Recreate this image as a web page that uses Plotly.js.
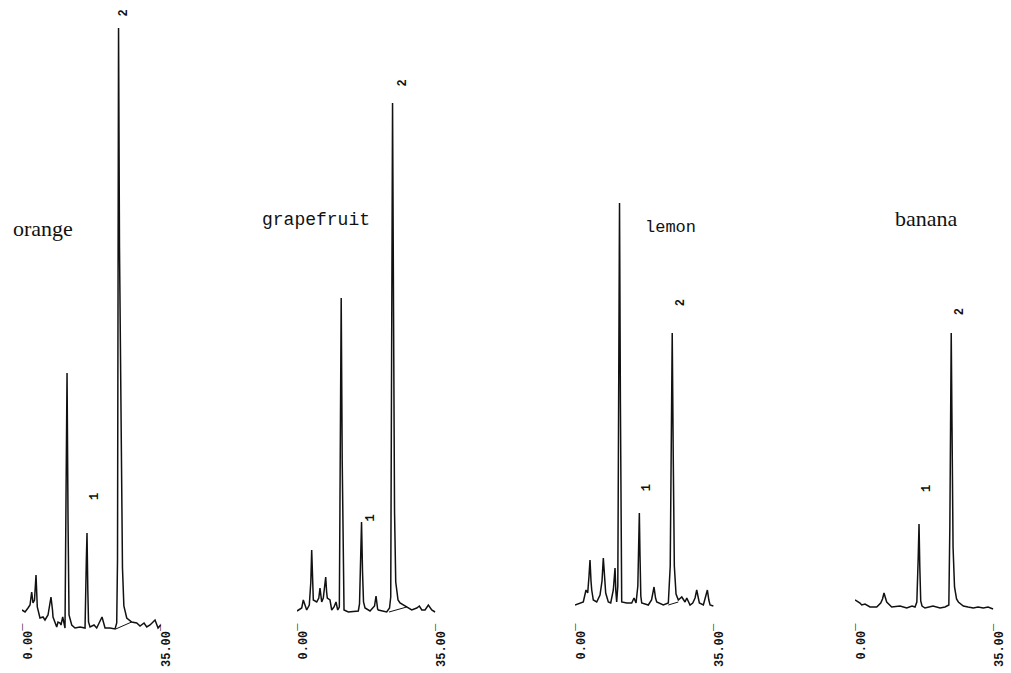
<!DOCTYPE html>
<html>
<head>
<meta charset="utf-8">
<script src="https://cdn.plot.ly/plotly-3.0.1.min.js"></script>
<style>html,body{margin:0;padding:0;background:#fff;}#chart{width:1011px;height:673px;}</style>
</head>
<body>
<div id="chart"></div>
<script>
// ---- data (retention time in minutes, detector signal in arbitrary units) ----
var sampleNames = ['orange', 'grapefruit', 'lemon', 'banana'];
var axisTickLabels = ['0.00\u00af', '35.00\u00af'];
var axisTickTimes = [0, 35];
var peakLabels = ['1', '2'];

var orangeTime = [0, 0.76, 1.51, 2.02, 2.44, 2.77, 3.15, 3.53, 3.85, 4.53, 5.29, 5.79, 6.55, 7.05, 7.30, 7.68, 7.81, 8.74, 9.07, 9.57, 9.82, 10.25, 10.58, 10.83, 11.08, 11.34, 11.59, 11.84, 12.52, 13.35, 14.61, 15.87, 16.20, 16.37, 16.57, 16.75, 17.13, 18.14, 18.81, 20.15, 20.91, 22.17, 23.43, 23.85, 24.05, 24.18, 24.31, 24.55, 24.94, 25.30, 25.65, 26.37, 27.63, 28.89, 29.72, 30.73, 31.41, 32.24, 33.50, 34.26, 34.90];
var orangeSignal = [18, 16, 20, 23, 36, 25, 28, 53, 21, 10, 11, 8, 13, 28, 31, 18, 11, 1, 6, 5, 3, 11, 6, 0, 128, 255, 108, 13, 3, 0, 1, 0, 68, 95, 38, 6, 1, 3, 0, 11, 0, 0, -1, 5, 68, 330, 600, 380, 170, 60, 22, 10, 6, 5, 2, 5, 1, 3, 8, 0, 3];
var orangeBaselineTime = [23.6, 27.6];
var orangeBaselineSignal = [-1, 6];
var orangePeakTimes = [16.37, 24.31];

var grapefruitTime = [0, 1.18, 1.59, 2.02, 2.44, 3.10, 3.48, 3.70, 3.93, 4.11, 4.96, 5.49, 5.79, 6.22, 6.62, 7.00, 7.23, 7.46, 7.63, 8.31, 8.74, 9.32, 9.82, 10.25, 10.66, 10.88, 11.13, 11.39, 11.64, 11.84, 12.92, 15.44, 15.74, 16.02, 16.25, 16.50, 16.75, 17.13, 18.39, 19.52, 19.90, 20.30, 20.48, 22.59, 23.30, 23.60, 23.80, 24.06, 24.31, 24.56, 24.86, 25.44, 25.94, 27.63, 28.89, 30.15, 30.81, 31.42, 32.24, 33.07, 33.93, 34.76];
var grapefruitSignal = [1, 4, 12, 7, 2, 7, 30, 62, 20, 12, 10, 14, 24, 10, 14, 25, 35, 20, 14, 12, 2, 5, 10, 2, 5, 150, 314, 150, 20, 2, 0, 1, 8, 60, 90, 40, 10, 4, 1, 6, 16, 3, 2, 0, 4, 15, 200, 509, 300, 100, 30, 12, 9, 5, 2, 4, 6, 2, 2, 7, 2, 0];
var grapefruitBaselineTime = [23.17, 27.63];
var grapefruitBaselineSignal = [0, 5];
var grapefruitPeakTimes = [16.25, 24.06];

var lemonTime = [0, 1.26, 2.09, 2.77, 3.20, 3.53, 3.78, 4.03, 4.21, 4.61, 5.47, 6.30, 6.80, 7.13, 7.43, 7.73, 8.39, 8.99, 9.65, 9.87, 10.08, 10.28, 10.50, 10.78, 11.01, 11.21, 11.44, 11.64, 11.76, 13.02, 14.28, 14.86, 15.37, 15.82, 16.04, 16.20, 16.37, 16.57, 16.80, 18.46, 19.27, 19.90, 20.28, 20.58, 22.24, 23.50, 23.98, 24.26, 24.48, 24.74, 25.01, 25.44, 26.02, 26.88, 27.71, 28.14, 28.97, 29.65, 30.23, 30.65, 30.98, 31.31, 32.32, 32.87, 33.33, 33.70, 34.01, 34.84];
var lemonSignal = [1, 3, 4, 16, 13, 30, 46, 25, 16, 6, 4, 11, 25, 48, 25, 13, 4, 3, 16, 25, 38, 15, 4, 20, 250, 403, 200, 20, 4, 3, 3, 8, 3, 20, 70, 93, 50, 10, 3, 1, 6, 19, 8, 4, 1, 3, 40, 200, 273, 150, 40, 12, 6, 9, 4, 8, 1, 3, 8, 16, 8, 3, 1, 8, 16, 6, 1, 0];
var lemonBaselineTime = [23.5, 26.0];
var lemonBaselineSignal = [1, 4];
var lemonPeakTimes = [16.20, 24.48];

var bananaTime = [0, 0.50, 0.83, 1.26, 1.69, 2.52, 3.78, 5.47, 6.47, 6.93, 7.30, 7.56, 7.98, 9.24, 11.34, 13.02, 14.36, 15.11, 15.57, 15.92, 16.12, 16.32, 16.55, 16.88, 17.63, 19.65, 21.41, 22.67, 23.63, 23.88, 24.06, 24.23, 24.43, 24.69, 25.06, 25.57, 26.02, 27.28, 28.46, 29.80, 30.98, 32.32, 33.50, 34.76];
var bananaSignal = [7, 6, 5, 4, 2, 3, 0, 0, 4, 8, 14, 10, 5, 0, 1, -1, 1, 0, 5, 50, 83, 40, 6, 1, -1, 1, -1, 0, 2, 80, 250, 274, 180, 60, 20, 8, 5, 1, 0, -1, 0, -1, 0, -2];
var bananaPeakTimes = [16.12, 24.23];

// ---- layout helpers (pixel geometry of the page) ----
var W = 1011, H = 673;
var panels = [
  {t: orangeTime, s: orangeSignal, bt: orangeBaselineTime, bs: orangeBaselineSignal, pk: orangePeakTimes, x0: 22, base: 628,
   name: {x: 43, y: 228, font: 'Liberation Serif', size: 22},
   lab: [[8, 36], [5, 15]]},
  {t: grapefruitTime, s: grapefruitSignal, bt: grapefruitBaselineTime, bs: grapefruitBaselineSignal, pk: grapefruitPeakTimes, x0: 297, base: 612,
   name: {x: 316, y: 220, font: 'Liberation Mono', size: 18},
   lab: [[9, 4], [10, 20]]},
  {t: lemonTime, s: lemonSignal, bt: lemonBaselineTime, bs: lemonBaselineSignal, pk: lemonPeakTimes, x0: 575, base: 606,
   name: {x: 670, y: 227, font: 'Liberation Mono', size: 17},
   lab: [[8, 25], [9, 30]]},
  {t: bananaTime, s: bananaSignal, bt: null, bs: null, pk: bananaPeakTimes, x0: 855, base: 607,
   name: {x: 926, y: 219, font: 'Liberation Serif', size: 22},
   lab: [[8, 35], [9, 21]]}
];
var panelWidth = 139;

var data = [];
var layout = {
  width: W, height: H,
  margin: {l: 0, r: 0, t: 0, b: 0},
  paper_bgcolor: '#ffffff', plot_bgcolor: 'rgba(0,0,0,0)',
  showlegend: false,
  annotations: []
};

function peakHeight(times, sig, t) {
  var best = -1e9;
  for (var i = 0; i < times.length; i++) {
    if (Math.abs(times[i] - t) < 0.3 && sig[i] > best) best = sig[i];
  }
  return best;
}

panels.forEach(function (p, i) {
  var n = i + 1;
  var xa = 'x' + (n === 1 ? '' : n), ya = 'y' + (n === 1 ? '' : n);
  var xk = 'xaxis' + (n === 1 ? '' : n), yk = 'yaxis' + (n === 1 ? '' : n);
  data.push({x: p.t, y: p.s, xaxis: xa, yaxis: ya, type: 'scatter', mode: 'lines',
             line: {color: '#111111', width: 1.5}, hoverinfo: 'skip'});
  if (p.bt) {
    data.push({x: p.bt, y: p.bs, xaxis: xa, yaxis: ya, type: 'scatter', mode: 'lines',
               line: {color: '#111111', width: 1}, hoverinfo: 'skip'});
  }
  layout[xk] = {domain: [p.x0 / W, (p.x0 + panelWidth) / W], range: [0, 35], visible: false, fixedrange: true};
  if (n > 1) layout[xk].anchor = ya;
  layout[yk] = {domain: [0, 1], range: [p.base - H, p.base], visible: false, fixedrange: true};
  if (n > 1) layout[yk].anchor = xa;

  // time-axis end labels
  axisTickTimes.forEach(function (tt, k) {
    layout.annotations.push({x: tt, y: p.base - 621, xref: xa, yref: ya, text: '<b>' + axisTickLabels[k] + '</b>',
      showarrow: false, textangle: -90, xanchor: 'center', yanchor: 'top', xshift: 6,
      font: {family: 'Liberation Mono', size: 12, color: '#111'}});
  });
  // peak labels
  p.pk.forEach(function (tt, k) {
    layout.annotations.push({x: tt, y: peakHeight(p.t, p.s, tt), xref: xa, yref: ya, text: '<b>' + peakLabels[k] + '</b>',
      showarrow: false, textangle: -90, xanchor: 'center', yanchor: 'middle',
      xshift: p.lab[k][0], yshift: p.lab[k][1],
      font: {family: 'Liberation Mono', size: 12, color: '#111'}});
  });
  // sample name
  layout.annotations.push({x: p.name.x / W, y: 1 - p.name.y / H, xref: 'paper', yref: 'paper',
    text: sampleNames[i], showarrow: false, xanchor: 'center', yanchor: 'middle',
    font: {family: p.name.font, size: p.name.size, color: '#111'}});
});

Plotly.newPlot('chart', data, layout, {staticPlot: true, displayModeBar: false});
</script>
</body>
</html>
